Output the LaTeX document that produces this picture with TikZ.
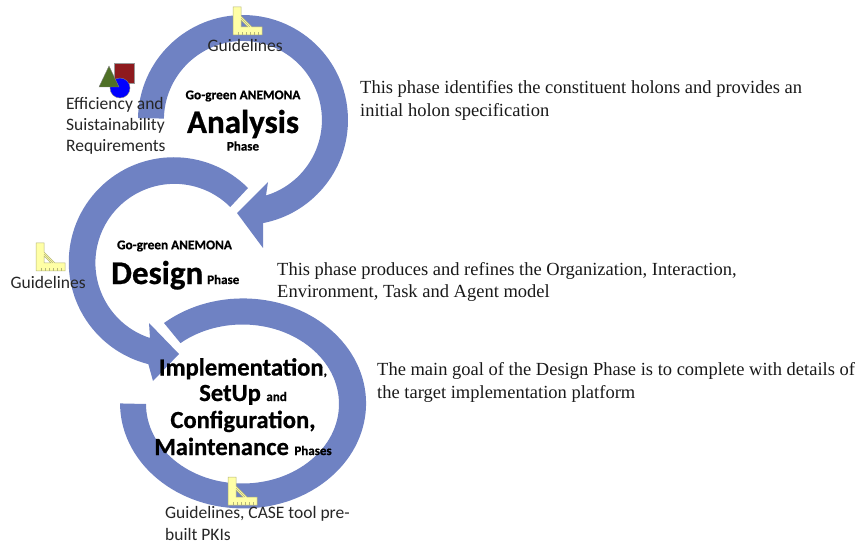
\documentclass[tikz,border=0pt]{standalone}
\usepackage{fontspec}
\setmainfont{Liberation Serif}
\newfontfamily\calfont[BoldFeatures={FakeBold=0.7}]{Carlito}
\definecolor{arcblue}{HTML}{6F82C3}
\definecolor{rulery}{HTML}{FFFFA6}
\definecolor{rulerl}{HTML}{B5B57A}
\definecolor{sqred}{HTML}{8E1A1E}
\definecolor{trigreen}{HTML}{4F7026}
\tikzset{
  band/.style={fill=arcblue,draw=none},
  lab/.style={font=\calfont\fontsize{17.5}{21}\selectfont,align=left,anchor=north west,inner sep=0pt,text=black!85},
  desc/.style={font=\fontsize{18.5}{22.7}\selectfont,align=left,anchor=north west,inner sep=0pt,text=black!90},
  heading/.style={font=\calfont\bfseries,align=center,inner sep=0pt},
}
\newcommand{\ruler}[2]{%
 \begin{scope}[shift={(#1,#2)}]
  \fill[rulery,draw=rulerl,line width=.5pt,even odd rule] (0,0)--(8,0)--(8,-9)--(19,-20)--(29,-20)--(29,-28)--(0,-28)--cycle (8,-13)--(8,-20)--(15,-20)--cycle;
  \foreach \x in {5,9,13,17,21,25}{\draw[rulerl,line width=.4pt] (\x,-28)--(\x,-25);}
  \draw[rulerl,line width=.4pt] (8,-11)--(17,-20);
 \end{scope}}
\begin{document}
\begin{tikzpicture}[x=1pt,y=1pt]
\useasboundingbox (0,0) rectangle (859,-545);
% arcs
\fill[band] (138,-118.2) arc[start angle=179,end angle=-79,radius=105] -- (263,-248) -- (237,-213) -- (268,-182) -- (266,-195.5) arc[start angle=-73,end angle=179,radius=79] -- cycle;
\fill[band] (248,-188) arc[start angle=45,end angle=256,radius=105] -- (153,-381) -- (179,-354) -- (149,-323) -- (150,-338) arc[start angle=252,end angle=45,radius=79] -- cycle;
\fill[band] (164,-323) arc[start angle=130,end angle=-180,x radius=123,y radius=105] -- (146,-404) arc[start angle=-180,end angle=130,x radius=96.5,y radius=79.5] -- cycle;
% shapes
\filldraw[fill=sqred,draw=black!40] (114,-63) rectangle (134,-83);
\filldraw[fill=blue,draw=black!50] (120,-88) circle[radius=10];
\filldraw[fill=trigreen,draw=black!50] (109,-66)--(119,-87)--(99,-87)--cycle;
% rulers
\ruler{233}{-7}
\ruler{36}{-243}
\ruler{228}{-477}
% labels
\node[lab] (g1) at (207.5,-39) {Guidelines};
\node[lab] (g2) at (10.5,-276) {Guidelines};
\node[lab] (req) at (66,-97) {Efficiency and\\Suistainability\\Requirements};
\node[lab,font=\calfont\fontsize{17.5}{22}\selectfont] (g3) at (165,-506.5) {Guidelines, CASE tool pre-\\built PKIs};
\node[heading,font=\calfont\bfseries\fontsize{13.3}{15}\selectfont] (a1) at (243,-96) {Go-green ANEMONA};
\node[heading,font=\calfont\bfseries\fontsize{33}{40}\selectfont] (a2) at (243,-124) {Analysis};
\node[heading,font=\calfont\bfseries\fontsize{13}{15}\selectfont] (a3) at (243,-146) {Phase};
\node[heading,font=\calfont\bfseries\fontsize{13.3}{15}\selectfont] (d1) at (174.5,-246) {Go-green ANEMONA};
\node[heading,anchor=base west] (d2) at (111,-284) {\fontsize{33}{40}\selectfont Design\hspace{4pt}\fontsize{13}{15}\selectfont Phase};
\node[heading,anchor=base] (i1) at (243,-375.5) {\fontsize{24.6}{30}\selectfont Implementation\fontsize{13}{15}\selectfont ,};
\node[heading,anchor=base] (i2) at (243,-401) {\fontsize{24.6}{30}\selectfont SetUp \fontsize{13}{15}\selectfont and};
\node[heading,anchor=base] (i3) at (243,-428) {\fontsize{24.6}{30}\selectfont Configuration,};
\node[heading,anchor=base] (i4) at (243,-455) {\fontsize{24.6}{30}\selectfont Maintenance \fontsize{13}{15}\selectfont Phases};
\node[desc] (t1) at (360,-80.5) {This phase identifies the constituent holons and provides an\\initial holon specification};
\node[desc] (t2) at (277,-262) {This phase produces and refines the Organization, Interaction,\\Environment, Task and Agent model};
\node[desc] (t3) at (377,-362.5) {The main goal of the Design Phase is to complete with details of\\the target implementation platform};
\end{tikzpicture}
\end{document}
